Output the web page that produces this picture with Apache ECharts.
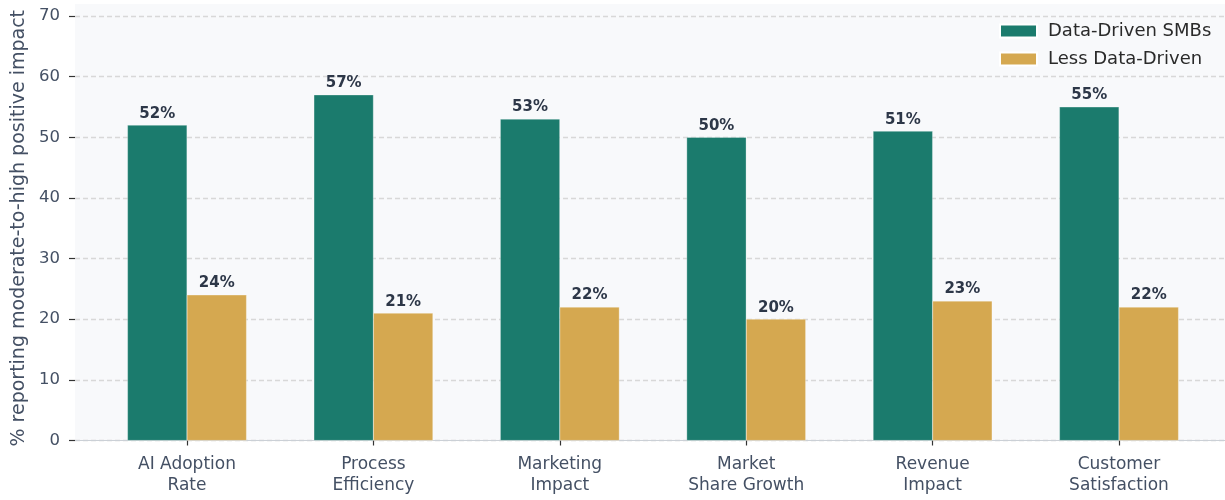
<!DOCTYPE html>
<html>
<head>
<meta charset="utf-8">
<script src="https://cdn.jsdelivr.net/npm/echarts@6/dist/echarts.min.js"></script>
<style>html,body{margin:0;padding:0;background:#fff;}#c{width:1225px;height:500px;}</style>
</head>
<body>
<div id="c"></div>
<script>
const categories = ['AI Adoption\nRate', 'Process\nEfficiency', 'Marketing\nImpact', 'Market\nShare Growth', 'Revenue\nImpact', 'Customer\nSatisfaction'];
const dataDriven = [52, 57, 53, 50, 51, 55];
const lessDataDriven = [24, 21, 22, 20, 23, 22];
const seriesNames = ['Data-Driven SMBs', 'Less Data-Driven'];
const yTicks = [0, 10, 20, 30, 40, 50, 60, 70];

const FONT = 'DejaVu Sans';
const chart = echarts.init(document.getElementById('c'), null, {renderer: 'canvas'});
const labelStyle = {show: true, position: 'top', distance: 4, formatter: p => p.value + '%', fontFamily: FONT, fontWeight: 'bold', fontSize: 15, color: '#2d3748'};
chart.setOption({
  animation: false,
  textStyle: {fontFamily: FONT},
  grid: [
    {left: 75, right: 0, top: 4, bottom: 59.5, show: true, backgroundColor: '#f8f9fb', borderWidth: 0},
    {left: 75, right: 0, top: 16, bottom: 59.5},
    {left: 93.8, right: 12.8, top: 16, bottom: 59.5}
  ],
  xAxis: [
    {gridIndex: 0, type: 'value', show: false, min: 0, max: 1},
    {gridIndex: 1, type: 'value', min: 0, max: 1, axisLine: {show: true, lineStyle: {color: '#cbd0d6', width: 1.2}}, axisTick: {show: false}, axisLabel: {show: false}, splitLine: {show: false}},
    {gridIndex: 2, type: 'category', data: categories, axisLine: {show: false}, axisTick: {show: true, alignWithLabel: true, length: 5, lineStyle: {color: '#333', width: 1.2}},
     axisLabel: {fontFamily: FONT, fontSize: 17, color: '#445064', margin: 14, lineHeight: 21}}
  ],
  yAxis: [
    {gridIndex: 0, type: 'value', show: false, min: 0, max: 1},
    {gridIndex: 1, type: 'value', min: yTicks[0], max: yTicks[yTicks.length - 1], interval: 10,
     name: '% reporting moderate-to-high positive impact', nameLocation: 'middle', nameGap: 42,
     nameTextStyle: {fontFamily: FONT, fontSize: 19, color: '#445064'},
     axisLine: {show: false}, axisTick: {show: true, length: 6, lineStyle: {color: '#333', width: 1.2}},
     axisLabel: {fontFamily: FONT, fontSize: 16.5, color: '#445064', margin: 15},
     splitLine: {show: true, lineStyle: {color: '#d8d8d8', width: 1.3, type: [5, 3]}}},
    {gridIndex: 2, type: 'value', show: false, min: 0, max: 70}
  ],
  legend: {
    left: 994, top: 17, orient: 'vertical', itemWidth: 37, itemHeight: 13, itemGap: 10, icon: 'rect',
    textStyle: {fontFamily: FONT, fontSize: 18, color: '#2a2a2a', padding: [0, 0, 0, 6]},
    data: seriesNames
  },
  series: [
    {name: seriesNames[0], type: 'bar', xAxisIndex: 2, yAxisIndex: 2, data: dataDriven, barWidth: 59.5, barGap: '0%',
     itemStyle: {color: '#1b7b6d', borderColor: '#ffffff', borderWidth: 0.3}, label: labelStyle},
    {name: seriesNames[1], type: 'bar', xAxisIndex: 2, yAxisIndex: 2, data: lessDataDriven, barWidth: 59.5, barGap: '0%',
     itemStyle: {color: '#d5a850', borderColor: '#ffffff', borderWidth: 0.3}, label: labelStyle}
  ]
});
</script>
</body>
</html>
